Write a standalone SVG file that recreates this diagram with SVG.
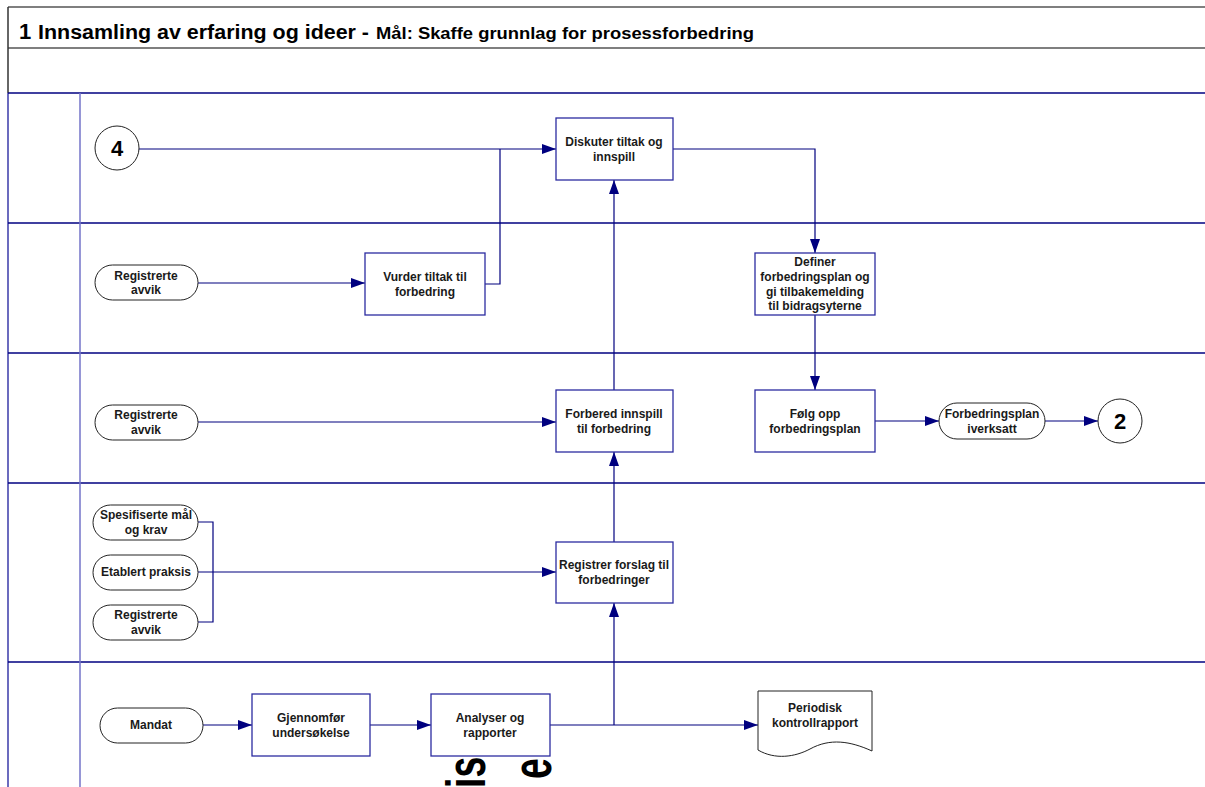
<svg xmlns="http://www.w3.org/2000/svg" width="1205" height="787" viewBox="0 0 1205 787">
  <defs>
    <marker id="arr" viewBox="0 0 14 10" refX="14" refY="5" markerWidth="14" markerHeight="10" markerUnits="userSpaceOnUse" orient="auto">
      <path d="M0,0 L14,5 L0,10 Z" fill="#00007f"/>
    </marker>
    <style>
      .lbl { font-family: "Liberation Sans", Arial, sans-serif; font-weight: bold; font-size: 12px; fill: #1a1a1a; text-anchor: middle; }
      .box { fill: #ffffff; stroke: #2b2ba0; stroke-width: 1.3; }
      .term { fill: #ffffff; stroke: #222222; stroke-width: 1; }
      .conn { fill: none; stroke: #00007f; stroke-width: 1.2; }
      .lane { stroke: #000080; stroke-width: 1.5; }
      .col { stroke: #7373c8; stroke-width: 1.5; }
      .big { font-family: "Liberation Sans", Arial, sans-serif; font-weight: bold; fill: #000000; }
    </style>
  </defs>

  <rect x="0" y="0" width="1205" height="787" fill="#ffffff"/>

  <!-- frame and header -->
  <g id="frame">
    <line x1="8" y1="7" x2="1205" y2="7" stroke="#555555" stroke-width="1.5"/>
    <line x1="8" y1="48" x2="1205" y2="48" stroke="#555555" stroke-width="1.5"/>
    <line x1="8" y1="7" x2="8" y2="93" stroke="#333333" stroke-width="1.5"/>
    <line x1="8" y1="93" x2="8" y2="787" stroke="#3a3aa8" stroke-width="1.5"/>
    <text class="big" x="19" y="39" font-size="22">1</text>
    <text class="big" x="38" y="39" font-size="20" textLength="331" lengthAdjust="spacingAndGlyphs">Innsamling av erfaring og ideer -</text>
    <text class="big" x="376" y="39" font-size="16.5" textLength="378" lengthAdjust="spacingAndGlyphs">Mål: Skaffe grunnlag for prosessforbedring</text>
  </g>

  <!-- swimlane rules -->
  <g id="lanes">
    <line class="lane" x1="8" y1="93" x2="1205" y2="93"/>
    <line class="lane" x1="8" y1="223" x2="1205" y2="223"/>
    <line class="lane" x1="8" y1="353" x2="1205" y2="353"/>
    <line class="lane" x1="8" y1="483" x2="1205" y2="483"/>
    <line class="lane" x1="8" y1="662" x2="1205" y2="662"/>
    <line class="col" x1="80" y1="93" x2="80" y2="787"/>
  </g>

  <!-- connectors -->
  <g id="connectors">
    <path class="conn" d="M139,149 H556" marker-end="url(#arr)"/>
    <path class="conn" d="M485,284 H500 V149"/>
    <path class="conn" d="M198,283 H365" marker-end="url(#arr)"/>
    <path class="conn" d="M673,149 H815 V253" marker-end="url(#arr)"/>
    <path class="conn" d="M815,315 V390" marker-end="url(#arr)"/>
    <path class="conn" d="M614,390 V180" marker-end="url(#arr)"/>
    <path class="conn" d="M198,422 H556" marker-end="url(#arr)"/>
    <path class="conn" d="M875,421 H939" marker-end="url(#arr)"/>
    <path class="conn" d="M1045,421 H1098" marker-end="url(#arr)"/>
    <path class="conn" d="M198,522 H213 V622 H198"/>
    <path class="conn" d="M198,572 H556" marker-end="url(#arr)"/>
    <path class="conn" d="M614,542 V452" marker-end="url(#arr)"/>
    <path class="conn" d="M203,725 H252" marker-end="url(#arr)"/>
    <path class="conn" d="M370,725 H431" marker-end="url(#arr)"/>
    <path class="conn" d="M550,725 H758" marker-end="url(#arr)"/>
    <path class="conn" d="M614,725 V603" marker-end="url(#arr)"/>
  </g>

  <!-- nodes -->
  <g id="n-connector4">
    <circle cx="117" cy="148" r="22" fill="#ffffff" stroke="#222222" stroke-width="1"/>
    <text class="big" x="117" y="156" font-size="22" text-anchor="middle">4</text>
  </g>
  <g id="n-diskuter">
    <rect class="box" x="556" y="118" width="117" height="62"/>
    <text class="lbl" x="614" y="146">Diskuter tiltak og</text>
    <text class="lbl" x="614" y="161">innspill</text>
  </g>
  <g id="n-avvik1">
    <rect class="term" x="95" y="265" width="103" height="35" rx="17.5"/>
    <text class="lbl" x="146" y="280">Registrerte</text>
    <text class="lbl" x="146" y="294">avvik</text>
  </g>
  <g id="n-vurder">
    <rect class="box" x="365" y="253" width="120" height="62"/>
    <text class="lbl" x="425" y="281">Vurder tiltak til</text>
    <text class="lbl" x="425" y="296">forbedring</text>
  </g>
  <g id="n-definer">
    <rect class="box" x="755" y="253" width="120" height="62"/>
    <text class="lbl" x="815" y="266">Definer</text>
    <text class="lbl" x="815" y="281">forbedringsplan og</text>
    <text class="lbl" x="815" y="296">gi tilbakemelding</text>
    <text class="lbl" x="815" y="310">til bidragsyterne</text>
  </g>
  <g id="n-avvik2">
    <rect class="term" x="95" y="405" width="103" height="35" rx="17.5"/>
    <text class="lbl" x="146" y="419">Registrerte</text>
    <text class="lbl" x="146" y="434">avvik</text>
  </g>
  <g id="n-forbered">
    <rect class="box" x="556" y="390" width="117" height="62"/>
    <text class="lbl" x="614" y="418">Forbered innspill</text>
    <text class="lbl" x="614" y="433">til forbedring</text>
  </g>
  <g id="n-folg">
    <rect class="box" x="755" y="390" width="120" height="62"/>
    <text class="lbl" x="815" y="418">Følg opp</text>
    <text class="lbl" x="815" y="433">forbedringsplan</text>
  </g>
  <g id="n-iverksatt">
    <rect class="term" x="939" y="403" width="106" height="36" rx="18"/>
    <text class="lbl" x="992" y="418">Forbedringsplan</text>
    <text class="lbl" x="992" y="433">iverksatt</text>
  </g>
  <g id="n-connector2">
    <circle cx="1120" cy="421" r="22" fill="#ffffff" stroke="#222222" stroke-width="1"/>
    <text class="big" x="1120" y="429" font-size="22" text-anchor="middle">2</text>
  </g>
  <g id="n-spesifiserte">
    <rect class="term" x="93" y="505" width="105" height="35" rx="17.5"/>
    <text class="lbl" x="146" y="519">Spesifiserte mål</text>
    <text class="lbl" x="146" y="534">og krav</text>
  </g>
  <g id="n-etablert">
    <rect class="term" x="93" y="555" width="105" height="35" rx="17.5"/>
    <text class="lbl" x="146" y="576">Etablert praksis</text>
  </g>
  <g id="n-avvik3">
    <rect class="term" x="93" y="605" width="105" height="35" rx="17.5"/>
    <text class="lbl" x="146" y="619">Registrerte</text>
    <text class="lbl" x="146" y="634">avvik</text>
  </g>
  <g id="n-registrer">
    <rect class="box" x="556" y="542" width="117" height="61"/>
    <text class="lbl" x="614" y="569">Registrer forslag til</text>
    <text class="lbl" x="614" y="584">forbedringer</text>
  </g>
  <g id="n-mandat">
    <rect class="term" x="100" y="708" width="103" height="35" rx="17.5"/>
    <text class="lbl" x="151" y="729">Mandat</text>
  </g>
  <g id="n-gjennomfor">
    <rect class="box" x="252" y="694" width="118" height="62"/>
    <text class="lbl" x="311" y="722">Gjennomfør</text>
    <text class="lbl" x="311" y="737">undersøkelse</text>
  </g>
  <g id="n-analyser">
    <rect class="box" x="431" y="694" width="119" height="62"/>
    <text class="lbl" x="490" y="722">Analyser og</text>
    <text class="lbl" x="490" y="737">rapporter</text>
  </g>
  <g id="n-periodisk">
    <path d="M758,691 H872 V751 C850,741 830,738 810,749 C795,757 775,760 758,750 Z" fill="#ffffff" stroke="#222222" stroke-width="1"/>
    <text class="lbl" x="815" y="712">Periodisk</text>
    <text class="lbl" x="815" y="727">kontrollrapport</text>
  </g>

  <!-- rotated lane captions running off the lower edge -->
  <g id="captions">
    <text class="big" font-size="56" transform="translate(485,788) rotate(-90) scale(0.67,1)">is</text>
    <text class="big" font-size="56" transform="translate(551,779) rotate(-90) scale(0.67,1)">e</text>
  </g>
</svg>
